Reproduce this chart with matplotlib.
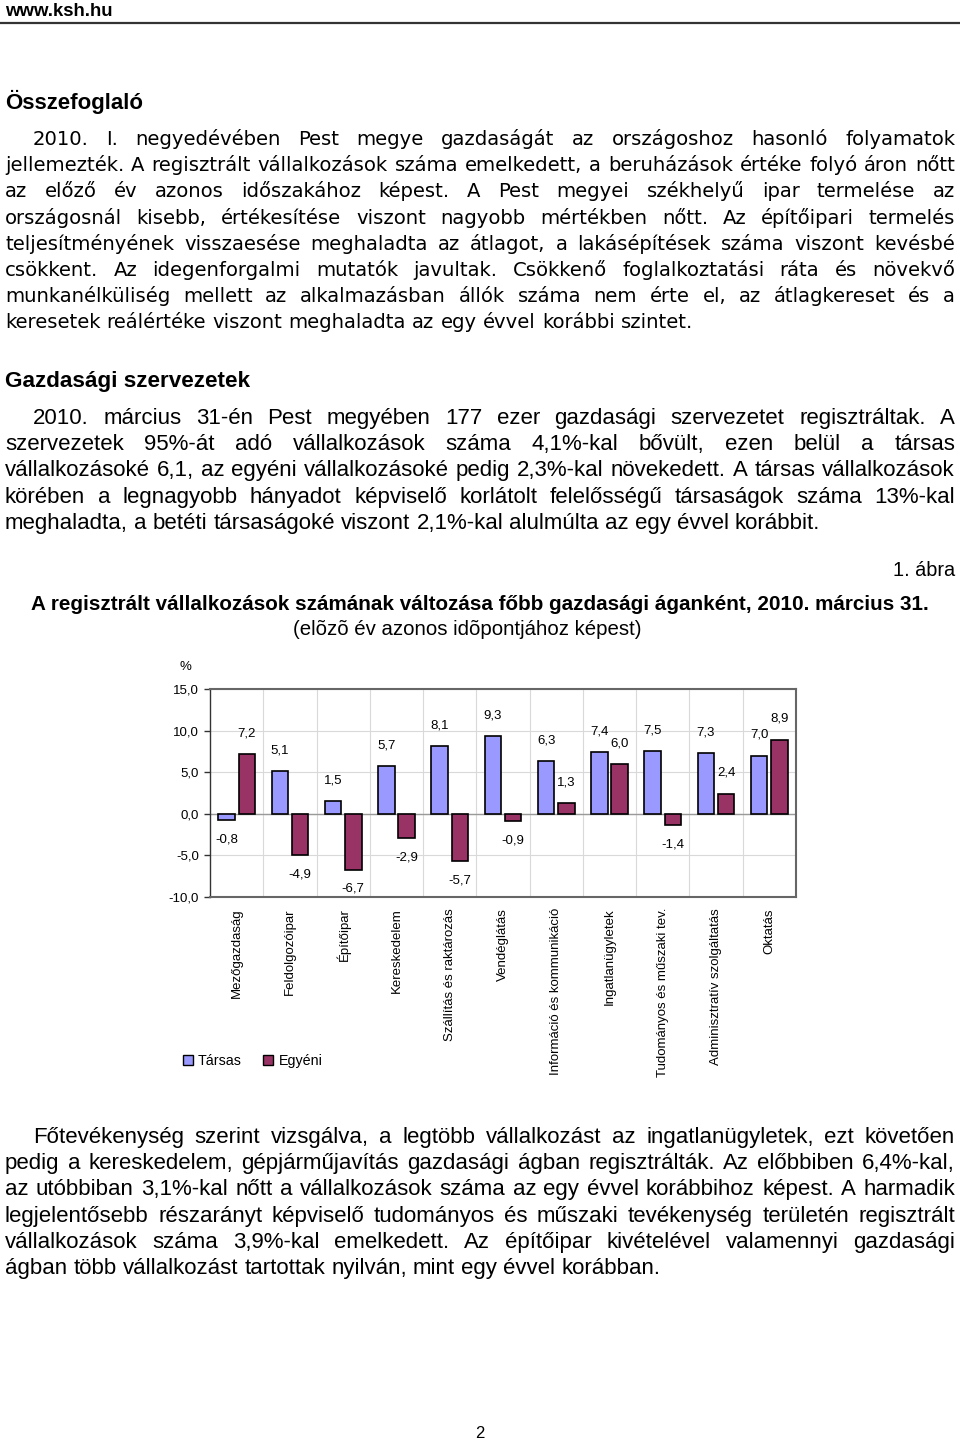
import matplotlib
matplotlib.use("Agg")
import matplotlib.pyplot as plt
from matplotlib.patches import Patch
from matplotlib.lines import Line2D
import numpy as np

# ---------------- data ----------------
categories = ["Mezőgazdaság", "Feldolgozóipar", "Építőipar", "Kereskedelem",
              "Szállítás és raktározás", "Vendéglátás", "Információ és kommunikáció",
              "Ingatlanügyletek", "Tudományos és műszaki tev.",
              "Adminisztratív szolgáltatás", "Oktatás"]
tarsas = [-0.8, 5.1, 1.5, 5.7, 8.1, 9.3, 6.3, 7.4, 7.5, 7.3, 7.0]
egyeni = [7.2, -4.9, -6.7, -2.9, -5.7, -0.9, 1.3, 6.0, -1.4, 2.4, 8.9]
series_names = ["Társas", "Egyéni"]
yticks = [-10, -5, 0, 5, 10, 15]

para1 = [
    "2010. I. negyedévében Pest megye gazdaságát az országoshoz hasonló folyamatok",
    "jellemezték. A regisztrált vállalkozások száma emelkedett, a beruházások értéke folyó áron nőtt",
    "az előző év azonos időszakához képest. A Pest megyei székhelyű ipar termelése az",
    "országosnál kisebb, értékesítése viszont nagyobb mértékben nőtt. Az építőipari termelés",
    "teljesítményének visszaesése meghaladta az átlagot, a lakásépítések száma viszont kevésbé",
    "csökkent. Az idegenforgalmi mutatók javultak. Csökkenő foglalkoztatási ráta és növekvő",
    "munkanélküliség mellett az alkalmazásban állók száma nem érte el, az átlagkereset és a",
    "keresetek reálértéke viszont meghaladta az egy évvel korábbi szintet.",
]
para2 = [
    "2010. március 31-én Pest megyében 177 ezer gazdasági szervezetet regisztráltak. A",
    "szervezetek 95%-át adó vállalkozások száma 4,1%-kal bővült, ezen belül a társas",
    "vállalkozásoké 6,1, az egyéni vállalkozásoké pedig 2,3%-kal növekedett. A társas vállalkozások",
    "körében a legnagyobb hányadot képviselő korlátolt felelősségű társaságok száma 13%-kal",
    "meghaladta, a betéti társaságoké viszont 2,1%-kal alulmúlta az egy évvel korábbit.",
]
para3 = [
    "Főtevékenység szerint vizsgálva, a legtöbb vállalkozást az ingatlanügyletek, ezt követően",
    "pedig a kereskedelem, gépjárműjavítás gazdasági ágban regisztrálták. Az előbbiben 6,4%-kal,",
    "az utóbbiban 3,1%-kal nőtt a vállalkozások száma az egy évvel korábbihoz képest. A harmadik",
    "legjelentősebb részarányt képviselő tudományos és műszaki tevékenység területén regisztrált",
    "vállalkozások száma 3,9%-kal emelkedett. Az építőipar kivételével valamennyi gazdasági",
    "ágban több vállalkozást tartottak nyilván, mint egy évvel korábban.",
]

W, H = 960, 1440
fig = plt.figure(figsize=(9.6, 14.4), dpi=100)
fig.patch.set_facecolor("white")
renderer = fig.canvas.get_renderer()

SANS = "Liberation Sans"


def fx(x):
    return x / W


def fy(y):
    return 1 - y / H


def width_of(t):
    return t.get_window_extent(renderer).width


def fit_size(text, target, family, weight="normal", base=12.0):
    t = fig.text(0, 0, text, fontsize=base, family=family, weight=weight)
    w = width_of(t)
    t.remove()
    return base * target / w


def paragraph(lines, x_left, x_right, indent, y0, dy, size, family):
    t1 = fig.text(0, 0, "a a", fontsize=size, family=family)
    t2 = fig.text(0, 0, "aa", fontsize=size, family=family)
    space_w = width_of(t1) - width_of(t2)
    t1.remove(); t2.remove()
    for i, line in enumerate(lines):
        words = line.split(" ")
        last = i == len(lines) - 1
        x0 = indent if i == 0 else x_left
        texts = [fig.text(0, fy(y0 + i * dy), w, fontsize=size, family=family,
                          va="baseline", ha="left", color="black") for w in words]
        widths = [width_of(t) for t in texts]
        if last or len(words) == 1:
            gap = space_w
        else:
            gap = (x_right - x0 - sum(widths)) / (len(words) - 1)
        x = x0
        for t, w in zip(texts, widths):
            t.set_x(fx(x))
            x += w + gap


# ---------------- page header ----------------
s = fit_size("www.ksh.hu", 107, SANS, "bold")
fig.text(fx(5), fy(16), "www.ksh.hu", fontsize=s, family=SANS, weight="bold", va="baseline")
fig.add_artist(Line2D([0, 1], [fy(22.5), fy(22.5)], lw=1.6, color="#333333",
                      transform=fig.transFigure))

s = fit_size("Összefoglaló", 137, SANS, "bold")
fig.text(fx(5), fy(109), "Összefoglaló", fontsize=s, family=SANS, weight="bold", va="baseline")

P1F = "DejaVu Sans"
s1 = fit_size(para1[-1], 687, P1F)
paragraph(para1, 5, 955, 33, 145, 26.2, s1, P1F)

s = fit_size("Gazdasági szervezetek", 243, SANS, "bold")
fig.text(fx(5), fy(387), "Gazdasági szervezetek", fontsize=s, family=SANS,
         weight="bold", va="baseline")

s2 = fit_size(para2[-1], 815, SANS)
paragraph(para2, 5, 955, 33, 424, 26.2, s2, SANS)

# ---------------- chart titles ----------------
s = fit_size("1. ábra", 62, SANS)
fig.text(fx(955), fy(576), "1. ábra", fontsize=s, family=SANS, ha="right", va="baseline")
title = "A regisztrált vállalkozások számának változása főbb gazdasági áganként, 2010. március 31."
s = fit_size(title, 890, SANS, "bold")
fig.text(fx(480), fy(610), title, fontsize=s, family=SANS, weight="bold",
         ha="center", va="baseline")
subtitle = "(elõzõ év azonos idõpontjához képest)"
s = fit_size(subtitle, 349, SANS)
fig.text(fx(467.5), fy(635), subtitle, fontsize=s, family=SANS, ha="center", va="baseline")

# ---------------- chart ----------------
ax = fig.add_axes([fx(210), fy(897), 586 / W, 208 / H])
x = np.arange(len(categories))
off, bw = 0.19, 0.31
c1, c2 = "#9999FF", "#993366"
ax.bar(x - off, tarsas, bw, color=c1, edgecolor="black", lw=1.2, zorder=3)
ax.bar(x + off, egyeni, bw, color=c2, edgecolor="black", lw=1.2, zorder=3)
ax.set_xlim(-0.5, len(categories) - 0.5)
ax.set_ylim(-10, 15)
ax.set_yticks(yticks)
ax.set_yticklabels([f"{v:.1f}".replace(".", ",") for v in yticks], fontsize=9.5, family=SANS)
ax.set_xticks(x)
ax.set_xticklabels(categories, rotation=90, fontsize=9.5, family=SANS, va="top", ha="center")
ax.set_xticks(np.arange(0.5, len(categories) - 0.5, 1), minor=True)
ax.tick_params(axis="x", which="both", length=0, pad=8)
ax.tick_params(axis="y", length=4, width=1, color="#333333", pad=4)
ax.yaxis.grid(True, color="#d9d9d9", lw=0.8, zorder=0)
ax.xaxis.grid(True, which="minor", color="#d9d9d9", lw=0.8, zorder=0)
ax.axhline(0, color="#9a9a9a", lw=1.0, zorder=2)
for side in ["top", "right", "bottom"]:
    ax.spines[side].set_color("#666666")
    ax.spines[side].set_linewidth(1.5)
ax.spines["left"].set_color("#333333")
ax.spines["left"].set_linewidth(1.0)

for series, dx in ((tarsas, -off), (egyeni, off)):
    for xi, v in zip(x, series):
        ax.annotate(f"{v:.1f}".replace(".", ","), (xi + dx, v),
                    xytext=(0, 15 if v >= 0 else -14), textcoords="offset points",
                    ha="center", va="center", fontsize=9.5, family=SANS)

fig.text(fx(185), fy(667), "%", fontsize=9.5, family=SANS, ha="center", va="center")

handles = [Patch(facecolor=c1, edgecolor="black", lw=1.0),
           Patch(facecolor=c2, edgecolor="black", lw=1.0)]
fig.legend(handles, series_names, loc="center left", bbox_to_anchor=(fx(183), fy(1061)),
           ncol=2, frameon=False, handlelength=0.7, handleheight=0.7, handletextpad=0.35,
           columnspacing=1.5, prop={"family": SANS, "size": 10.3}, borderaxespad=0, borderpad=0)

# ---------------- bottom text ----------------
s3 = fit_size(para3[-1], 657, SANS)
paragraph(para3, 5, 955, 33, 1143, 26.2, s3, SANS)

fig.text(fx(480), fy(1438), "2", fontsize=12, family=SANS, ha="center", va="baseline")

fig.savefig("out.png", dpi=100, facecolor="white")
